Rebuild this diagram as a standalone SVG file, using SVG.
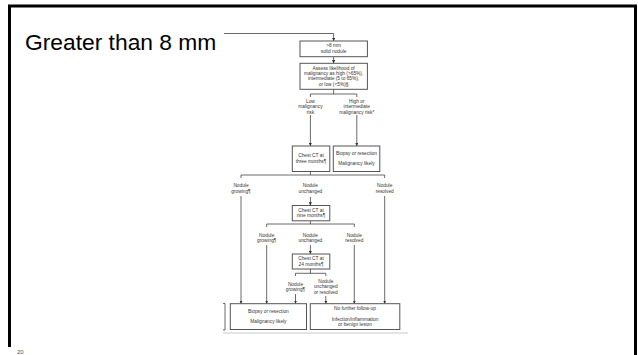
<svg xmlns="http://www.w3.org/2000/svg" width="638" height="355" viewBox="0 0 638 355">
  <style>
    .frame { fill: none; stroke: #000; stroke-width: 3; }
    .title { font-family: "Liberation Sans", Arial, sans-serif; font-size: 22.8px; fill: #000; }
    .pnum { font-family: "Liberation Sans", Arial, sans-serif; font-size: 6px; fill: #555; }
    .box { fill: #fff; stroke: #555; stroke-width: 1; }
    .lbl { font-family: "Liberation Sans", Arial, sans-serif; font-size: 4.8px; fill: #333; text-anchor: middle; }
    .conn { fill: none; stroke: #444; stroke-width: 0.8; }
    .arr { marker-end: url(#head); }
    .rule { fill: none; stroke: #bbb; stroke-width: 0.8; }
  </style>
  <defs>
    <marker id="head" viewBox="0 0 6 6" refX="6" refY="3" markerWidth="3.2" markerHeight="3.2" markerUnits="userSpaceOnUse" orient="auto">
      <path d="M0,0 L6,3 L0,6 z" fill="#333"/>
    </marker>
  </defs>

  <rect width="638" height="355" fill="#fff"/>
  <!-- slide frame -->
  <path class="frame" d="M9.5 347 V6 H635.5 V355"/>

  <text class="title" x="25" y="50">Greater than 8 mm</text>
  <text class="pnum" x="17" y="354">20</text>

  <!-- connectors -->
  <g id="connectors">
    <path class="conn arr" d="M224 33.5 H333.6 V41"/>
    <path class="conn arr" d="M333.6 56.7 V63.3"/>
    <path class="conn" d="M333.6 89.3 V94"/>
    <path class="conn" d="M310.4 97 V94 H356.8 V97"/>
    <path class="conn arr" d="M310.4 115 V146"/>
    <path class="conn arr" d="M356.8 115 V146"/>

    <path class="conn" d="M310.4 171.5 V175"/>
    <path class="conn" d="M241 178 V175 H384.7 V178"/>
    <path class="conn arr" d="M241 196 V303.7"/>
    <path class="conn arr" d="M384.7 196 V303.7"/>
    <path class="conn arr" d="M310.4 197 V205.5"/>

    <path class="conn" d="M310.4 220.8 V224"/>
    <path class="conn" d="M266.7 227 V224 H354.3 V227"/>
    <path class="conn arr" d="M266.7 245 V303.7"/>
    <path class="conn arr" d="M354.3 245 V303.7"/>
    <path class="conn arr" d="M310.4 245 V254"/>

    <path class="conn" d="M310.4 269 V273.3"/>
    <path class="conn" d="M295.5 276 V273.3 H325.8 V276"/>
    <path class="conn arr" d="M295.5 294 V303.7"/>
    <path class="conn arr" d="M325.8 296 V303.7"/>

    <path class="conn" d="M223 303.5 H225 V330 H223"/>
    <path class="rule" d="M223 333 H408"/>
  </g>

  <!-- branch labels -->
  <g id="branch-labels">
    <text class="lbl" x="310.4" y="102.7">Low</text>
    <text class="lbl" x="310.4" y="108.4">malignancy</text>
    <text class="lbl" x="310.4" y="114">risk</text>
    <text class="lbl" x="356.8" y="102.7">High or</text>
    <text class="lbl" x="356.8" y="108.4">intermediate</text>
    <text class="lbl" x="356.8" y="114">malignancy risk*</text>

    <text class="lbl" x="241" y="187.2">Nodule</text>
    <text class="lbl" x="241" y="192.7">growing¶</text>
    <text class="lbl" x="310.4" y="187.2">Nodule</text>
    <text class="lbl" x="310.4" y="192.7">unchanged</text>
    <text class="lbl" x="384.7" y="187.2">Nodule</text>
    <text class="lbl" x="384.7" y="192.7">resolved</text>

    <text class="lbl" x="266.7" y="236.5">Nodule</text>
    <text class="lbl" x="266.7" y="242">growing¶</text>
    <text class="lbl" x="310.4" y="236.5">Nodule</text>
    <text class="lbl" x="310.4" y="242">unchanged</text>
    <text class="lbl" x="354.3" y="236.5">Nodule</text>
    <text class="lbl" x="354.3" y="242">resolved</text>

    <text class="lbl" x="295.5" y="285.8">Nodule</text>
    <text class="lbl" x="295.5" y="291.3">growing¶</text>
    <text class="lbl" x="325.8" y="283">Nodule</text>
    <text class="lbl" x="325.8" y="288.4">unchanged</text>
    <text class="lbl" x="325.8" y="293.8">or resolved</text>
  </g>

  <g id="solid-nodule">
    <rect class="box" x="300" y="41" width="67.4" height="15.7"/>
    <text class="lbl" x="333.6" y="47.2">&gt;8 mm</text>
    <text class="lbl" x="333.6" y="52.6">solid nodule</text>
  </g>

  <g id="assess-likelihood">
    <rect class="box" x="300" y="63.3" width="67.4" height="26"/>
    <text class="lbl" x="333.6" y="70">Assess likelihood of</text>
    <text class="lbl" x="333.6" y="75.2">malignancy as high (&gt;65%),</text>
    <text class="lbl" x="333.6" y="80.4">intermediate (5 to 65%),</text>
    <text class="lbl" x="333.6" y="85.6">or low (&lt;5%)§</text>
  </g>

  <g id="ct-three-months">
    <rect class="box" x="292.3" y="146" width="37.5" height="25.5"/>
    <text class="lbl" x="311" y="157.2">Chest CT at</text>
    <text class="lbl" x="311" y="162.6">three months¶</text>
  </g>

  <g id="biopsy-high">
    <rect class="box" x="333.3" y="146" width="46.5" height="25.5"/>
    <text class="lbl" x="356.5" y="155">Biopsy or resection</text>
    <text class="lbl" x="356.5" y="165.3">Malignancy likely</text>
  </g>

  <g id="ct-nine-months">
    <rect class="box" x="292.3" y="205.5" width="37.5" height="15.3"/>
    <text class="lbl" x="311" y="211.7">Chest CT at</text>
    <text class="lbl" x="311" y="217">nine months¶</text>
  </g>

  <g id="ct-24-months">
    <rect class="box" x="292.3" y="254" width="37.5" height="15"/>
    <text class="lbl" x="311" y="260.3">Chest CT at</text>
    <text class="lbl" x="311" y="265.6">24 months¶</text>
  </g>

  <g id="biopsy-outcome">
    <rect class="box" x="230.3" y="303.7" width="76.2" height="25.8"/>
    <text class="lbl" x="268.4" y="313.3">Biopsy or resection</text>
    <text class="lbl" x="268.4" y="323.4">Malignancy likely</text>
  </g>

  <g id="no-follow-up">
    <rect class="box" x="310.3" y="303.7" width="89.5" height="25.8"/>
    <text class="lbl" x="355" y="310">No further follow-up</text>
    <text class="lbl" x="355" y="320.7">Infection/inflammation</text>
    <text class="lbl" x="355" y="325.8">or benign lesion</text>
  </g>
</svg>
